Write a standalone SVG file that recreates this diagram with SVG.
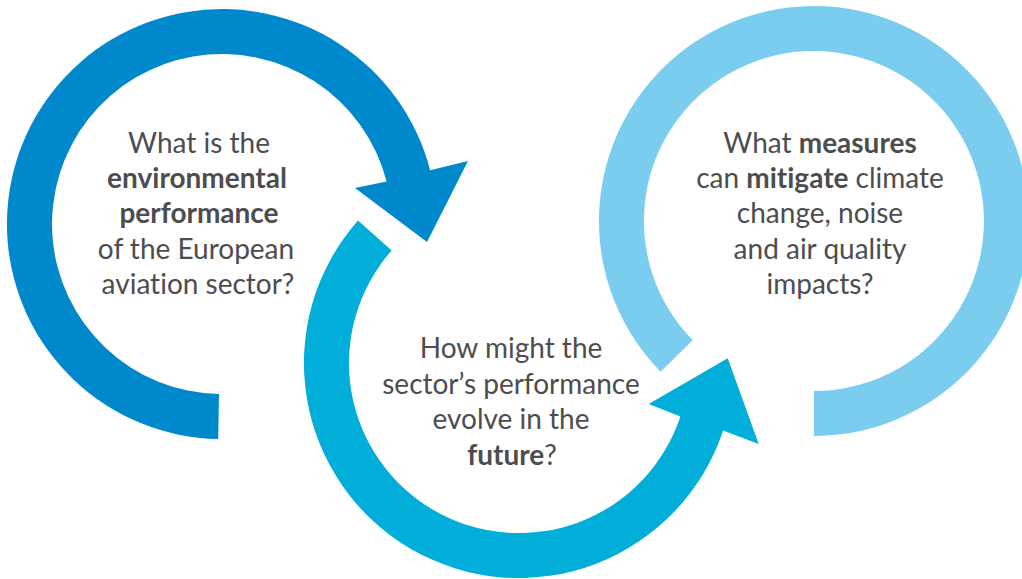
<svg xmlns="http://www.w3.org/2000/svg" width="1022" height="579" viewBox="0 0 1022 579">
<style>
  .t { font-family: Lato, "Open Sans", "DejaVu Sans", sans-serif; font-size: 28px; fill: #4d4d4f; text-anchor: middle; font-variant-ligatures: none; font-feature-settings: "liga" 0, "dlig" 0; }
  .b { font-weight: 700; }
  .r1 { fill: #0088cd; }
  .r2 { fill: #00aed9; }
  .r3 { fill: #7acdef; }
</style>
<rect width="1022" height="579" fill="#ffffff"/>
<g id="node-current">
  <path class="r1" d="M218.2,439 A215,215 0 1 1 430.1,170.2 L468,161 L427,242 L355,188 L386.6,181.4 A170,170 0 1 0 219,394 Z"/>
  <text class="t" x="199" y="153">What is the</text>
  <text class="t b" x="197" y="188">environmental</text>
  <text class="t b" x="199" y="223">performance</text>
  <text class="t" x="196" y="259">of the European</text>
  <text class="t" x="198" y="294">aviation sector?</text>
</g>
<g id="node-future">
  <path class="r2" d="M358,220.5 A215,215 0 1 0 723.1,430.5 L758.7,444 L727.7,358.3 L648.7,404 L680.4,416.4 A170,170 0 1 1 391.7,250.4 Z"/>
  <text class="t" x="511" y="358">How might the</text>
  <text class="t" x="511" y="394">sector’s performance</text>
  <text class="t" x="511" y="429">evolve in the</text>
  <text class="t" x="512" y="465"><tspan class="b">future</tspan>?</text>
</g>
<g id="node-measures">
  <path class="r3" d="M660.6,371.7 A215,215 0 1 1 814,436 L814,391 A170,170 0 1 0 692.7,340.2 Z"/>
  <text class="t" x="820" y="153">What <tspan class="b">measures</tspan></text>
  <text class="t" x="820" y="188">can <tspan class="b">mitigate</tspan> climate</text>
  <text class="t" x="820" y="223">change, noise</text>
  <text class="t" x="820" y="259">and air quality</text>
  <text class="t" x="820" y="294">impacts?</text>
</g>
<g id="connectors"></g>
</svg>
